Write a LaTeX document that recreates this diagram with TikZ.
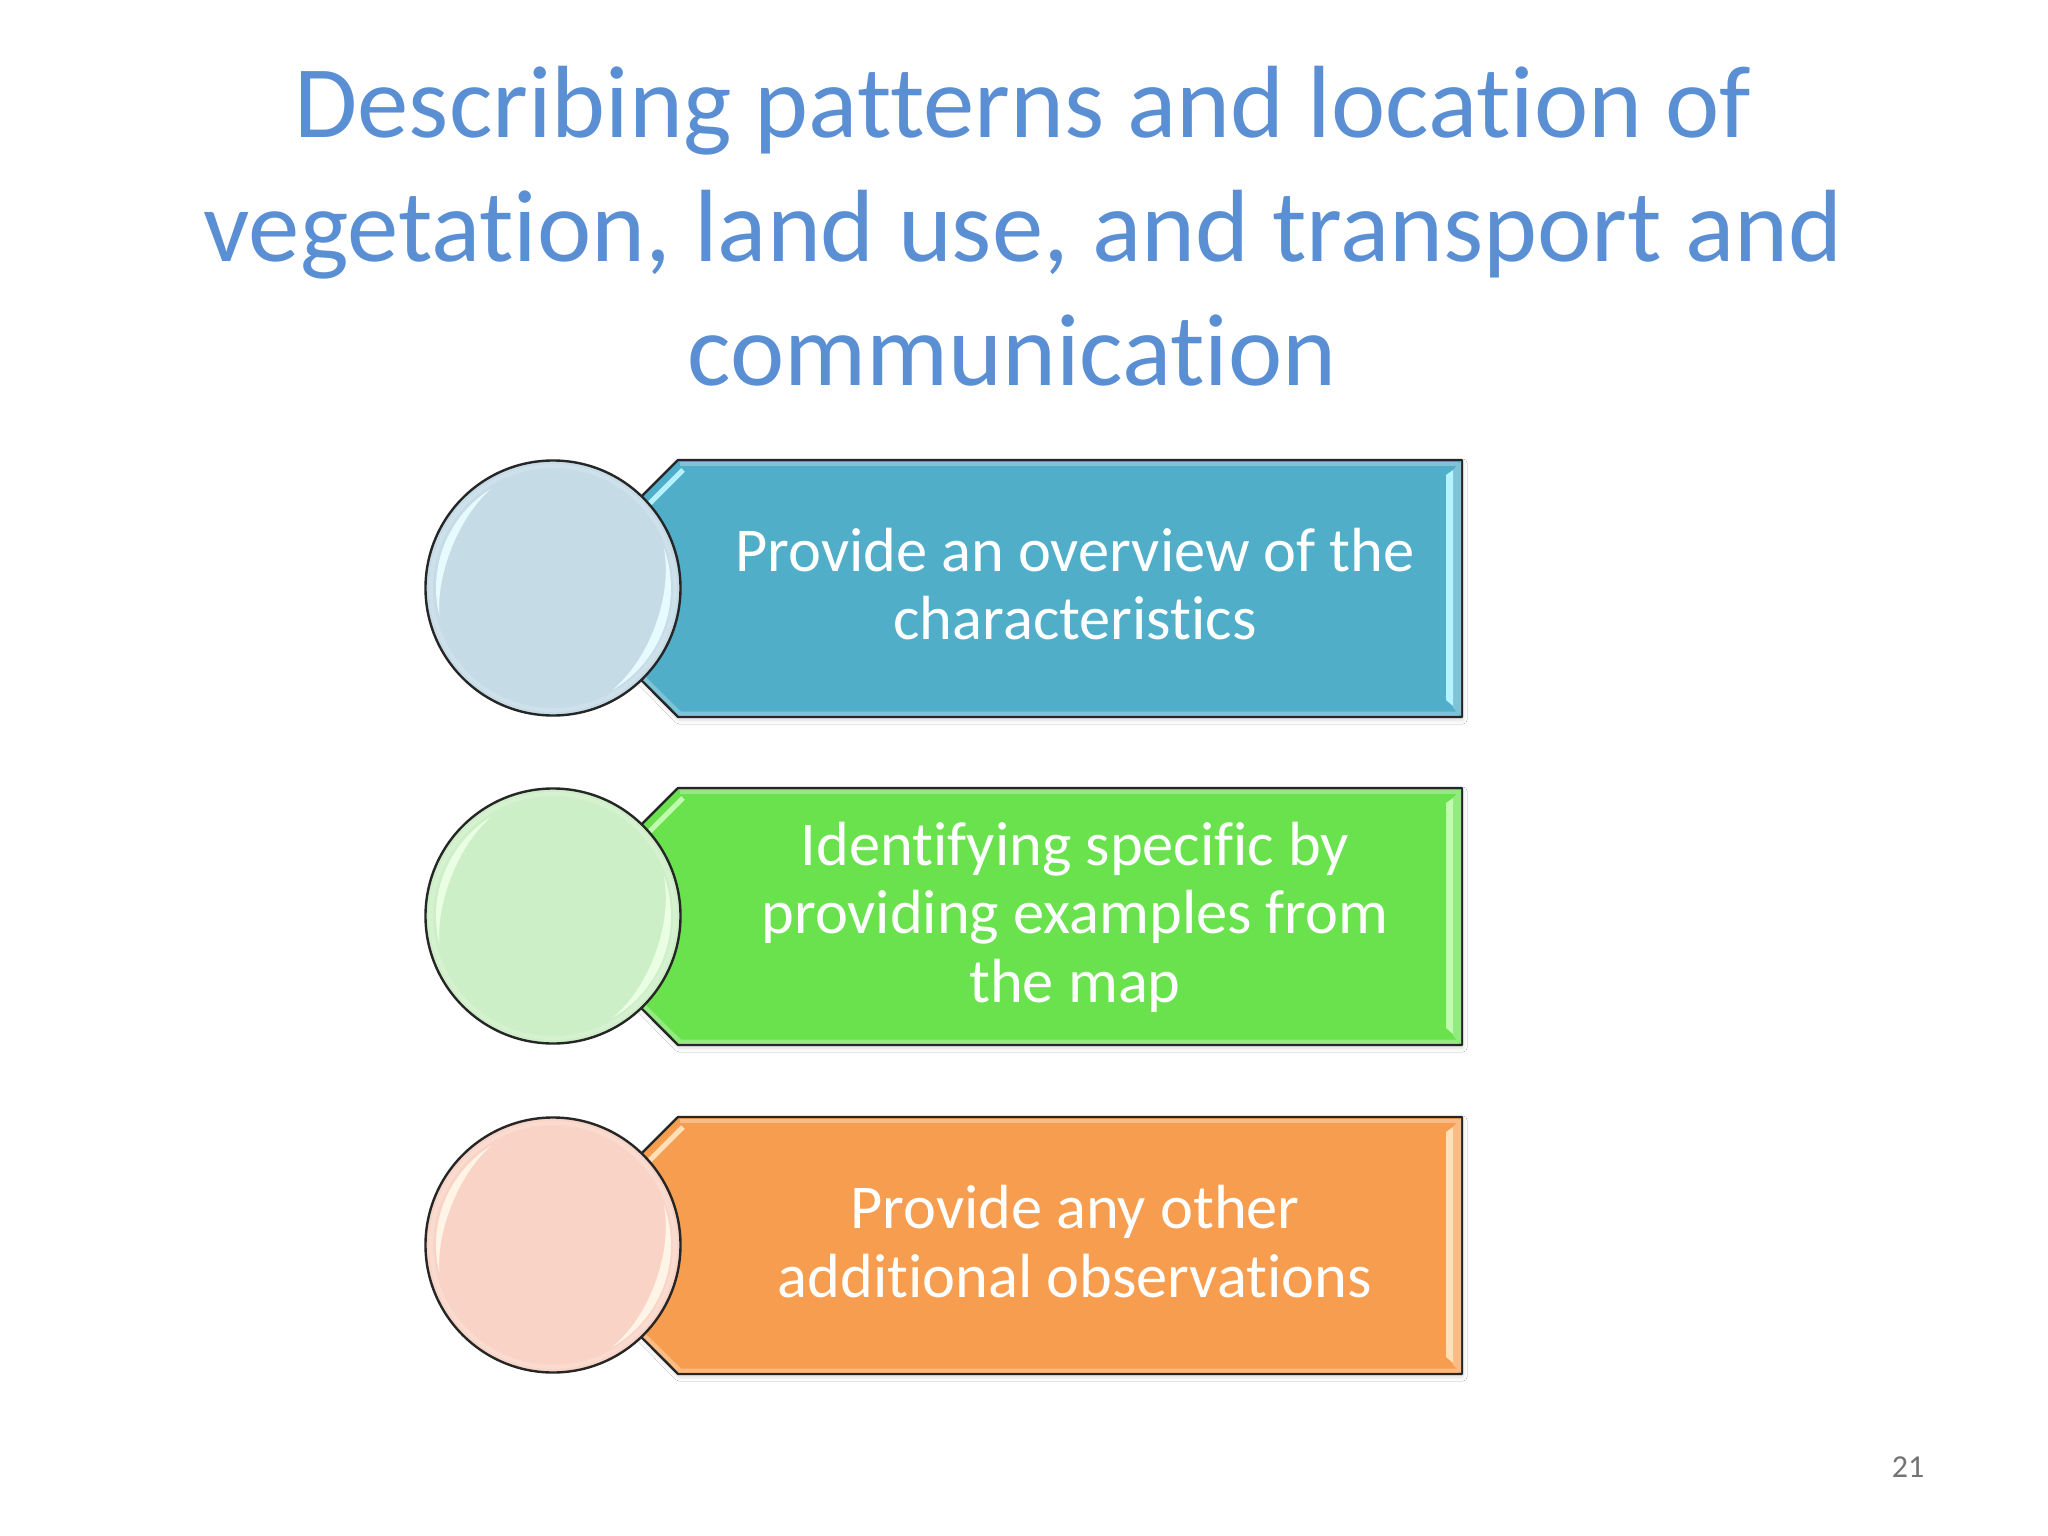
\documentclass[tikz,border=0pt]{standalone}
\usepackage{fontspec}
\setmainfont[Ligatures=NoCommon,RawFeature={-liga;-clig}]{Carlito}
\usetikzlibrary{shadows.blur}
\definecolor{titleblue}{HTML}{5B8FD3}
\definecolor{fillA}{HTML}{51AEC9}\definecolor{hiA}{HTML}{B4F3FF}\definecolor{edgeA}{HTML}{7FC3D7}\definecolor{discA}{HTML}{C5DBE6}
\definecolor{fillB}{HTML}{69E24E}\definecolor{hiB}{HTML}{C0FBB0}\definecolor{edgeB}{HTML}{93EA80}\definecolor{discB}{HTML}{CDEFC7}
\definecolor{fillC}{HTML}{F69D50}\definecolor{hiC}{HTML}{FFE0B8}\definecolor{edgeC}{HTML}{F9BC86}\definecolor{discC}{HTML}{F9D4C6}
\tikzset{
  titletext/.style={text=titleblue,font=\fontsize{102.7}{124}\selectfont,align=center,inner sep=0pt},
  bodytext/.style={text=white,font=\fontsize{62.4}{68.6}\selectfont,align=center,inner sep=0pt},
  pagenum/.style={text=black!55,font=\fontsize{32}{38}\selectfont,inner sep=0pt},
  plate/.style={draw=black!85,line width=2.4pt,line join=round,blur shadow={shadow xshift=1pt,shadow yshift=-3pt,shadow blur radius=4pt,shadow opacity=14}},
  disc/.style={circle,draw=black!85,line width=2.4pt,minimum size=255pt,inner sep=0pt}
}
\newcommand{\crescent}[5]{%
  \fill[#5] plot[domain=#1:#2,samples=30] ({553+#3*cos(\x)},{#3*sin(\x)})
    -- plot[domain=#2:#1,samples=30] ({553+(#3-#4*sin((\x-#1)*180/(#2-#1)))*cos(\x)},{(#3-#4*sin((\x-#1)*180/(#2-#1)))*sin(\x)}) -- cycle;}
\newcommand{\platerow}[6]{%
  \begin{scope}[shift={(0,#1)}]
    \draw[plate,fill=#2] (678,-128) -- (1462,-128) -- (1462,129) -- (678,129) -- (550,0) -- cycle;
    \fill[#4] (1453,-118) -- (1461,-127) -- (1461,128) -- (1453,120) -- cycle;
    \draw[#4,line width=4pt] (680,-124.5) -- (1459,-124.5);
    \draw[#4,line width=4pt] (1459,125.5) -- (680,125.5) -- (640,86);
    \fill[#3] (1446,-113) -- (1453,-118) -- (1453,118) -- (1446,112) -- cycle;
    \draw[#3,line width=5pt] (683,-118) -- (648,-83);
    \node[disc,fill=#5] (#6) at (553,0) {};
    \draw[#5!75!white,line width=4pt,opacity=.7] (553,0) circle[radius=122];
    \crescent{166}{238}{117}{8}{#3!35!white}
    \crescent{-20}{60}{118}{9}{#3!35!white}
  \end{scope}}
\begin{document}
\begin{tikzpicture}[x=1pt,y=-1pt]
  \useasboundingbox (0,0) rectangle (2048,1536);
  \fill[white] (0,0) rectangle (2048,1536);
  \node[titletext] (title) at (1023,226) {Describing patterns and location of\\vegetation, land use, and transport and\\communication\hspace*{22pt}};
  \platerow{588}{fillA}{hiA}{edgeA}{discA}{discone}
  \platerow{916}{fillB}{hiB}{edgeB}{discB}{disctwo}
  \platerow{1245}{fillC}{hiC}{edgeC}{discC}{discthree}
  \node[bodytext] (textone) at (1075,584) {Provide an overview of the\\characteristics};
  \node[bodytext] (texttwo) at (1075,917) {Identifying specific by\\providing examples from\\the map};
  \node[bodytext] (textthree) at (1075,1241.5) {Provide any other\\additional observations};
  \node[pagenum] (page) at (1908,1467) {21};
\end{tikzpicture}
\end{document}
